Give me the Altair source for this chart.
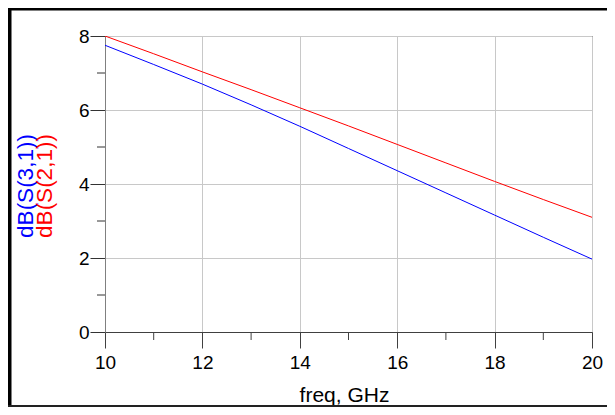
import altair as alt
import pandas as pd

freq = [10, 11, 12, 13, 14, 15, 16, 17, 18, 19, 20]
s21 = [8.00, 7.52, 7.03, 6.55, 6.06, 5.57, 5.07, 4.57, 4.07, 3.58, 3.10]
s31 = [7.75, 7.23, 6.70, 6.14, 5.56, 4.96, 4.36, 3.76, 3.16, 2.56, 1.97]
series_names = ["dB(S(3,1))", "dB(S(2,1))"]
series_colors = ["#0000ff", "#ff0000"]
x_major = [10, 12, 14, 16, 18, 20]
x_minor = [11, 13, 15, 17, 19]
y_major = [0, 2, 4, 6, 8]
y_minor = [1, 3, 5, 7]
x_title = "freq, GHz"

FONT = "Liberation Sans, Arial, sans-serif"
W, H = 487, 296

df = pd.DataFrame({
    "freq": freq * 2,
    "value": s31 + s21,
    "series": [series_names[0]] * len(freq) + [series_names[1]] * len(freq),
})

xs = alt.Scale(domain=[10, 20], nice=False, zero=False)
ys = alt.Scale(domain=[0, 8], nice=False, zero=False)
cs = alt.Scale(domain=series_names, range=series_colors)

lines = alt.Chart(df).mark_line(strokeWidth=1, clip=True).encode(
    x=alt.X("freq:Q", scale=xs, axis=alt.Axis(
        values=x_major, title=x_title, format="d",
        labelFlush=False, labelOverlap=False,
        domainColor="#404040", tickColor="#404040", tickSize=16,
        labelFontSize=19, labelPadding=5, labelColor="#000000", labelFont=FONT,
        gridColor="#c8c8c8", grid=True,
        titleFont=FONT, titleFontSize=21, titleFontWeight="normal", titleColor="#000000",
        titleX=239, titleY=69, titleBaseline="alphabetic", titleAlign="center",
    )),
    y=alt.Y("value:Q", scale=ys, axis=alt.Axis(
        values=y_major, title=None, format="d",
        labelFlush=False, labelOverlap=False,
        domainColor="#808080", tickColor="#333333", tickSize=15,
        labelFontSize=19, labelPadding=1, labelColor="#000000", labelFont=FONT,
        gridColor="#c8c8c8", grid=True,
    )),
    color=alt.Color("series:N", scale=cs, legend=None),
    order=alt.Order("freq:Q"),
)

xminor = alt.Chart(pd.DataFrame({"freq": x_minor})).mark_rule(
    color="#404040", strokeWidth=1
).encode(x=alt.X("freq:Q", scale=xs), y=alt.value(H), y2=alt.value(H + 8))

yminor = alt.Chart(pd.DataFrame({"value": y_minor})).mark_rule(
    color="#333333", strokeWidth=1
).encode(y=alt.Y("value:Q", scale=ys), x=alt.value(-8), x2=alt.value(0))

t_blue = alt.Chart(pd.DataFrame({"series": [series_names[0]]})).mark_text(
    angle=270, align="center", baseline="alphabetic", fontSize=22.5, font=FONT
).encode(text="series:N", color=alt.Color("series:N", scale=cs, legend=None),
         x=alt.value(-72.5), y=alt.value(150))

t_red = alt.Chart(pd.DataFrame({"series": [series_names[1]]})).mark_text(
    angle=270, align="center", baseline="alphabetic", fontSize=22.5, font=FONT
).encode(text="series:N", color=alt.Color("series:N", scale=cs, legend=None),
         x=alt.value(-53.5), y=alt.value(150))

one = pd.DataFrame({"k": [0]})
frame_left = alt.Chart(one).mark_rule(color="#000000", strokeWidth=4).encode(
    x=alt.value(-95.5), y=alt.value(-30), y2=alt.value(380))
frame_top = alt.Chart(one).mark_rule(color="#000000", strokeWidth=3).encode(
    x=alt.value(-98), x2=alt.value(520), y=alt.value(-27))
frame_bottom = alt.Chart(one).mark_rule(color="#222222", strokeWidth=2).encode(
    x=alt.value(-98), x2=alt.value(520), y=alt.value(370))

chart = alt.layer(
    lines, xminor, yminor, t_blue, t_red, frame_left, frame_top, frame_bottom
).properties(
    width=W, height=H,
    autosize=alt.AutoSizeParams(type="none"),
    padding={"left": 97, "top": 28, "right": 15, "bottom": 75},
    background="#ffffff",
).configure_view(
    stroke="#000000", strokeWidth=1
)

chart.save("out.html", embed_options={"renderer": "svg", "actions": False})
